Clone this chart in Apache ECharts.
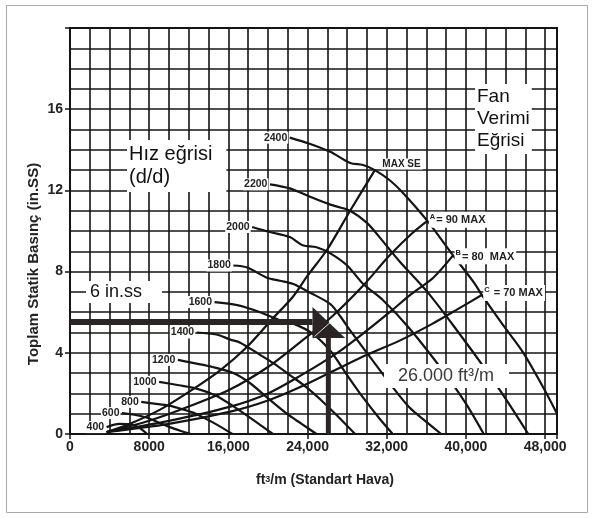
<!DOCTYPE html>
<html>
<head>
<meta charset="utf-8">
<script src="https://cdn.jsdelivr.net/npm/echarts@6/dist/echarts.min.js"></script>
<style>
html, body { margin: 0; padding: 0; background: #fff; }
#fan { width: 593px; height: 518px; }
</style>
</head>
<body>
<div id="fan"></div>
<script>
var myChart = echarts.init(document.getElementById('fan'));

// eksen
var xMax = 49200;
var yMax = 20;

// hiz egrileri (d/d) - [ft3/m, in.SS]
var rpmNames = ['400', '600', '800', '1000', '1200', '1400', '1600', '1800', '2000', '2200', '2400'];
var rpm400 = [[3700, 0.34], [5000, 0.5], [6300, 0.45], [7000, 0.3], [7800, 0]];
var rpm600 = [[5250, 1.03], [6500, 0.95], [7800, 0.8], [9000, 0.55], [10000, 0.35], [11200, 0.15], [12200, 0]];
var rpm800 = [[7200, 1.58], [8500, 1.5], [10000, 1.4], [11500, 1.2], [12700, 1.0], [14700, 0.5], [16400, 0]];
var rpm1000 = [[9000, 2.57], [11000, 2.4], [12700, 2.25], [14700, 1.9], [16400, 1.4], [18500, 0.7], [20500, 0]];
var rpm1200 = [[10900, 3.65], [12400, 3.5], [14400, 3.3], [16500, 3.0], [18200, 2.5], [19900, 1.8], [21900, 1.0], [23400, 0.5], [24900, 0]];
var rpm1400 = [[12800, 5.0], [14800, 4.9], [16200, 4.65], [17200, 4.5], [19200, 3.9], [20500, 3.5], [22500, 2.8], [23900, 2.3], [25300, 1.7], [27000, 0.9], [28800, 0]];
var rpm1600 = [[14600, 6.5], [16900, 6.35], [19200, 6.0], [21200, 5.6], [22500, 5.45], [24500, 4.95], [26300, 4.1], [28000, 2.9], [29600, 1.8], [31200, 0.8], [32600, 0]];
var rpm1800 = [[16500, 8.3], [17900, 8.2], [19900, 7.7], [21200, 7.55], [22500, 7.4], [24300, 6.95], [26300, 6.4], [27300, 5.8], [28300, 5.1], [30300, 3.8], [32300, 2.5], [34300, 1.3], [36000, 0.6], [37500, 0]];
var rpm2000 = [[18400, 10.2], [20200, 9.95], [22200, 9.7], [23500, 9.3], [24900, 9.2], [26300, 8.9], [28000, 8.3], [29600, 7.4], [31600, 6.6], [34300, 5.2], [37700, 3.1], [40000, 1.5], [41800, 0]];
var rpm2200 = [[20200, 12.3], [22200, 12.1], [24200, 11.7], [26300, 11.3], [27000, 11.2], [28300, 11.0], [30000, 10.4], [31600, 9.5], [33300, 8.5], [36100, 7.0], [39100, 5.1], [42100, 3.1], [44200, 1.6], [46300, 0]];
var rpm2400 = [[22200, 14.6], [24200, 14.3], [26300, 13.9], [28300, 13.35], [29600, 13.25], [30800, 13.0], [32300, 12.5], [33600, 11.9], [36100, 10.5], [38700, 8.8], [40900, 7.4], [41600, 6.85], [43700, 5.4], [45800, 4.0], [47800, 2.3], [49200, 1.0]];
var rpmData = [rpm400, rpm600, rpm800, rpm1000, rpm1200, rpm1400, rpm1600, rpm1800, rpm2000, rpm2200, rpm2400];

// verim egrileri
var effNames = ['MAX SE', 'A', 'B', 'C'];
var effText = ['MAX SE', '{s|A}{m|= 90 MAX}', '{s|B}{m|= 80  MAX}', '{s|C}{m| = 70 MAX}'];
var effMaxSE = [[3700, 0.1], [5800, 0.45], [9100, 1.2], [12400, 2.2], [15200, 3.15], [17900, 4.3], [20500, 5.7], [22500, 6.75], [24000, 7.8], [26000, 9.1], [28300, 11.0], [30800, 13.0]];
var effA = [[3700, 0.1], [8000, 0.65], [12000, 1.35], [16200, 2.2], [20000, 3.3], [23200, 4.5], [26500, 5.8], [29600, 7.3], [32300, 8.8], [34600, 9.9], [36100, 10.5]];
var effB = [[3700, 0.1], [10000, 0.65], [16200, 1.35], [20000, 2.0], [23200, 2.85], [27000, 4.0], [30000, 5.1], [32300, 6.0], [34500, 6.9], [36700, 7.7], [38700, 8.8]];
var effC = [[3700, 0.1], [10000, 0.5], [16200, 1.1], [20000, 1.65], [23200, 2.3], [27000, 3.2], [30000, 3.9], [33300, 4.6], [36500, 5.4], [39000, 6.1], [41600, 6.85]];
var effData = [effMaxSE, effA, effB, effC];

// calisma noktasi oklari
var arrowH = [[0, 5.52], [24500, 5.52]];
var arrowV = [[26100, 0], [26100, 4.73]];
var arrowHead = [[24500, 6.26], [27800, 4.73], [24500, 4.73]];
var arrowSlit = [[24700, 4.8], [26300, 5.5]];

var ink = '#141414';
var font = 'Liberation Sans';

var series = [];
for (var i = 0; i < rpmData.length; i++) {
    var d = rpmData[i].map(function (p, k) {
        if (k === 0) {
            return {
                value: p,
                label: {show: true, position: 'left', distance: 1, formatter: rpmNames[i]}
            };
        }
        return p;
    });
    series.push({
        name: rpmNames[i],
        type: 'line',
        smooth: 0.3,
        symbol: 'circle',
        symbolSize: 1,
        itemStyle: {color: 'rgba(0,0,0,0)'},
        lineStyle: {color: ink, width: 2.2},
        label: {
            fontFamily: font, fontWeight: 'bold', fontSize: 10.5, color: '#222',
            backgroundColor: '#fff', padding: [1, 1, 0, 1]
        },
        emphasis: {disabled: true},
        silent: true,
        data: d,
        z: 3
    });
}

var effLabelPos = [[0, -6], [0, -1], [0, 1], [0, -2]];
for (var j = 0; j < effData.length; j++) {
    var last = effData[j].length - 1;
    var e = effData[j].map(function (p, k) {
        if (k === last) {
            return {
                value: p,
                label: {
                    show: true, position: 'right', distance: j === 0 ? 6 : 1,
                    offset: effLabelPos[j], formatter: effText[j]
                }
            };
        }
        return p;
    });
    series.push({
        name: effNames[j],
        type: 'line',
        smooth: 0.3,
        symbol: 'circle',
        symbolSize: 1,
        itemStyle: {color: 'rgba(0,0,0,0)'},
        lineStyle: {color: ink, width: 2.2},
        label: {
            fontFamily: font, fontWeight: 'bold', fontSize: 10, color: '#222',
            backgroundColor: '#fff', padding: [1, 2, 0, 1],
            rich: {
                s: {fontFamily: font, fontWeight: 'bold', fontSize: 7.5, color: '#222', padding: [0, 1, 7, 0]},
                m: {fontFamily: font, fontWeight: 'bold', fontSize: 11, color: '#222'}
            }
        },
        emphasis: {disabled: true},
        silent: true,
        data: e,
        z: 4
    });
}

series.push({
    type: 'custom',
    silent: true,
    z: 5,
    data: [[26100, 5.52]],
    renderItem: function (params, api) {
        var col = '#2b2424';
        return {
            type: 'group',
            children: [
                {type: 'polyline', shape: {points: arrowH.map(api.coord)}, style: {stroke: col, lineWidth: 6, fill: null}},
                {type: 'polyline', shape: {points: arrowV.map(api.coord)}, style: {stroke: col, lineWidth: 5, fill: null}},
                {type: 'polygon', shape: {points: arrowHead.map(api.coord)}, style: {fill: col}},
                {type: 'polyline', shape: {points: arrowSlit.map(api.coord)}, style: {stroke: '#ddd', lineWidth: 1, fill: null}}
            ]
        };
    }
});

function boxText(x, y, txt, size, lh, pad, col) {
    return {
        type: 'text', x: x, y: y, z: 20,
        style: {
            text: txt, fontFamily: font, fontSize: size, lineHeight: lh,
            fill: col || '#111', backgroundColor: '#fff', padding: pad
        }
    };
}

var labelStyle = {fontFamily: font, fontWeight: 'bold', fontSize: 14, color: '#222'};

option = {
    animation: false,
    backgroundColor: '#fff',
    grid: {
        left: 70,
        right: 36,
        top: 28,
        bottom: 84,
        show: true,
        borderColor: ink,
        borderWidth: 2,
        backgroundColor: '#fff'
    },
    xAxis: [
        {
            // ince grid: her 2000
            type: 'value', min: 0, max: xMax, interval: 2000,
            axisLine: {lineStyle: {color: ink, width: 2}},
            axisTick: {show: false},
            axisLabel: {show: false},
            splitLine: {show: true, lineStyle: {color: ink, width: 1.6}}
        },
        {
            // etiketler: her 8000
            type: 'value', position: 'bottom', min: 0, max: xMax, interval: 8000,
            axisLine: {show: false},
            axisTick: {show: true, length: 5, lineStyle: {color: ink, width: 1.5}},
            axisLabel: Object.assign({
                margin: 6,
                formatter: function (v) {
                    if (v % 8000 !== 0) return '';
                    if (v < 10000) return String(v);
                    return v.toLocaleString('en-US');
                }
            }, labelStyle),
            splitLine: {show: false}
        }
    ],
    yAxis: [
        {
            type: 'value', min: 0, max: yMax, interval: 1,
            axisLine: {show: true, lineStyle: {color: ink, width: 2}},
            axisTick: {show: false},
            axisLabel: {show: false},
            splitLine: {show: true, lineStyle: {color: ink, width: 1.6}}
        },
        {
            type: 'value', position: 'left', min: 0, max: yMax, interval: 4,
            axisLine: {show: false},
            axisTick: {show: true, length: 5, lineStyle: {color: ink, width: 1.5}},
            axisLabel: Object.assign({
                margin: 7,
                formatter: function (v) {
                    return (v % 4 === 0 && v < 20) ? String(v) : '';
                }
            }, labelStyle),
            splitLine: {show: false}
        }
    ],
    graphic: [
        {
            type: 'rect', z: 0, silent: true,
            shape: {x: 6.5, y: 5.5, width: 581, height: 507},
            style: {fill: null, stroke: '#a8a8a8', lineWidth: 1}
        },
        boxText(127, 140, 'Hız eğrisi\n(d/d)', 20, 23, [3, 14, 3, 2]),
        boxText(475, 84, 'Fan\nVerimi\nEğrisi', 19, 22, [2, 2, 2, 2]),
        boxText(86, 281, '6 in.ss', 18, 20, [1, 20, 1, 4]),
        boxText(384, 364, '26.000 ft³/m', 18, 22, [1, 15, 1, 14], '#3a3a3a'),
        {
            type: 'text', x: 34, y: 264, rotation: Math.PI / 2, z: 20,
            style: {
                text: 'Toplam Statik Basınç (in.SS)', fontFamily: font, fontWeight: 'bold',
                fontSize: 15, fill: '#222', align: 'center', verticalAlign: 'middle'
            }
        },
        {
            type: 'text', x: 325, y: 480, z: 20,
            style: {
                text: '{b|ft}{s|3}{b|/m (Standart Hava)}', align: 'center', verticalAlign: 'middle',
                rich: {
                    b: {fontFamily: font, fontWeight: 'bold', fontSize: 14, fill: '#222'},
                    s: {fontFamily: font, fontWeight: 'bold', fontSize: 9, fill: '#222'}
                }
            }
        }
    ],
    series: series
};

myChart.setOption(option);
</script>
</body>
</html>
